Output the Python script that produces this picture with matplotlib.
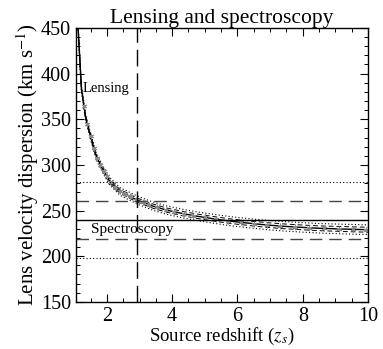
import numpy as np
import matplotlib
matplotlib.use('Agg')
import matplotlib.pyplot as plt

plt.rcParams['font.family'] = ['Liberation Serif', 'DejaVu Serif']
plt.rcParams['mathtext.fontset'] = 'stix'

# lensing curve
zs = [1.08, 1.12, 1.22, 1.35, 1.48, 1.68, 1.89, 2.09, 2.40, 2.93, 3.4, 3.83, 4.35, 4.85, 5.4, 5.87, 6.4, 6.9, 7.4, 7.92, 8.5, 9.2, 10.0]
sigma = [470, 450, 384, 352, 334, 309, 294, 282, 271, 261.5, 255, 250.5, 246.5, 243.3, 240.3, 238, 236, 234.2, 232.8, 231.7, 230.6, 229.8, 229]
err1 = [1.5, 1.5, 1.6, 1.7, 1.8, 1.9, 2.0, 2.0, 2.1, 2.2, 2.3, 2.3, 2.4, 2.4, 2.5, 2.5, 2.5, 2.6, 2.6, 2.6, 2.6, 2.7, 2.7]
err2 = [3.0, 3.0, 3.2, 3.4, 3.6, 3.8, 4.0, 4.1, 4.2, 4.4, 4.5, 4.6, 4.7, 4.8, 4.9, 5.0, 5.0, 5.1, 5.1, 5.2, 5.2, 5.3, 5.3]

# samples drawn on top of the curve (gray stars)
zs_star = [1.3, 1.4, 1.5, 1.6, 1.7, 1.8, 1.9, 2.0, 2.1, 2.25, 2.4, 2.55, 2.7, 2.9, 3.1, 3.3, 3.55, 3.8, 4.05, 4.35, 4.65, 5.0, 5.35, 5.7,
           6.1, 6.5, 6.9, 7.3, 7.75, 8.2, 8.65, 9.1, 9.55, 9.95]

# spectroscopy
sig_spec = 239.5
sig_spec_1 = 20.8
sig_spec_2 = 41.8
z_source = 2.93

fig = plt.figure(figsize=(3.83, 3.49), dpi=100)
ax = fig.add_axes([0.198, 0.135, 0.763, 0.785])

zs = np.array(zs)
sigma = np.array(sigma)
err1 = np.array(err1)
err2 = np.array(err2)

ax.plot(zs, sigma, color='black', lw=1.0)
ax.plot(zs, sigma + err1, color='black', lw=0.7, ls=(0, (5, 3)))
ax.plot(zs, sigma - err1, color='black', lw=0.7, ls=(0, (5, 3)))
ax.plot(zs, sigma + err2, color='black', lw=0.8, ls=(0, (1, 2)))
ax.plot(zs, sigma - err2, color='black', lw=0.8, ls=(0, (1, 2)))
ax.plot(zs_star, np.interp(zs_star, zs, sigma), ls='none', marker=(6, 2, 0),
        ms=4, mec='#8a8a8a', mew=0.7)

ax.axhline(sig_spec, color='black', lw=1.0)
ax.axhline(sig_spec + sig_spec_1, color='#444444', lw=1.0, ls=(0, (9, 5)))
ax.axhline(sig_spec - sig_spec_1, color='#444444', lw=1.0, ls=(0, (9, 5)))
ax.axhline(sig_spec + sig_spec_2, color='black', lw=0.8, ls=(0, (1, 2)))
ax.axhline(sig_spec - sig_spec_2, color='black', lw=0.8, ls=(0, (1, 2)))
ax.axvline(z_source, color='black', lw=1.0, ls=(0, (12, 5)))

ax.text(1.27, 384, 'Lensing', fontsize=10.5, va='center', ha='left')
ax.text(1.5, 229, 'Spectroscopy', fontsize=11, va='center', ha='left')

ax.set_xlim(1.05, 10)
ax.set_ylim(150, 450)
ax.set_xticks([2, 4, 6, 8, 10])
ax.set_xticks(np.arange(1.5, 10, 0.5), minor=True)
ax.set_yticks([150, 200, 250, 300, 350, 400, 450])
ax.set_yticks(np.arange(150, 451, 10), minor=True)
ax.tick_params(which='both', direction='in', top=True, right=True, labelsize=14.5)
ax.tick_params(which='major', length=6, width=0.8)
ax.tick_params(which='minor', length=3, width=0.7)
for s in ax.spines.values():
    s.set_linewidth(1.0)

ax.set_title('Lensing and spectroscopy', fontsize=15.5, pad=1)
ax.set_xlabel('Source redshift ($z_s$)', fontsize=13.5, labelpad=0)
ax.set_ylabel('Lens velocity dispersion (km s$^{-1}$)', fontsize=15, labelpad=0)

fig.savefig('out.png', dpi=100)
